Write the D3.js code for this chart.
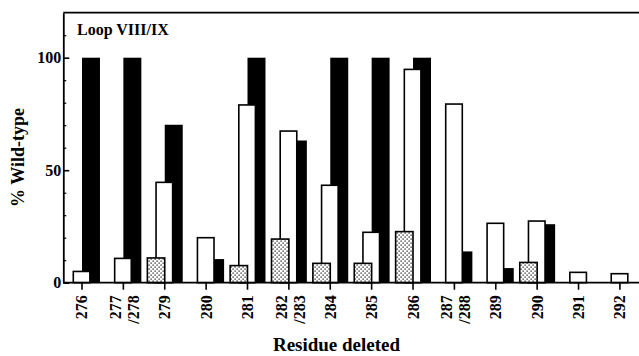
<!DOCTYPE html>
<html>
<head>
<meta charset="utf-8">
<script src="https://cdn.jsdelivr.net/npm/d3@7"></script>
<style>
  html, body { margin: 0; padding: 0; background: #fff; }
  svg { display: block; }
  text { font-family: "Liberation Serif", "DejaVu Serif", serif; font-weight: bold; fill: #000; }
</style>
</head>
<body>
<svg id="chart" width="639" height="356"></svg>
<script>
// ---- data ----
const categories = ["276", "277/278", "279", "280", "281", "282/283", "284", "285", "286", "287/288", "289", "290", "291", "292"];
const stippledValues = [0, 0, 11, 0, 7.6, 19.4, 8.6, 8.6, 22.7, 0, 0, 9, 0, 0];
const whiteValues    = [5, 10.8, 44.6, 20, 79, 67.4, 43.3, 22.4, 94.8, 79.4, 26.4, 27.4, 4.6, 4];
const blackValues    = [100, 100, 70.2, 10.5, 100, 63.2, 100, 100, 100, 13.9, 6.5, 26, 0, 0];
const yMajorTicks = [0, 50, 100];
const yMinorTicks = [10, 20, 30, 40, 60, 70, 80, 90, 110];
const panelLabel = "Loop VIII/IX";
const xTitle = "Residue deleted";
const yTitle = "% Wild-type";

// ---- layout ----
const svg = d3.select("#chart");
const mLeft = 63.3, mTop = 12.7, mBottom = 282.7, mRight = 641;

const x = d3.scaleBand().domain(categories).range([61.3, 640.6]).paddingInner(0).paddingOuter(0);
const y = d3.scaleLinear().domain([0, 120]).range([mBottom, mTop]);
const step = x.step();
const bw = step * 0.42;
const cx = d => x(d) + x.bandwidth() / 2;

// stipple pattern
const defs = svg.append("defs");
const pat = defs.append("pattern").attr("id", "stipple").attr("patternUnits", "userSpaceOnUse")
  .attr("width", 4).attr("height", 4);
pat.append("rect").attr("width", 4).attr("height", 4).attr("fill", "#fff");
pat.append("rect").attr("x", 0.5).attr("y", 0.5).attr("width", 1.2).attr("height", 1.2).attr("fill", "#000");
pat.append("rect").attr("x", 2.5).attr("y", 2.5).attr("width", 1.2).attr("height", 1.2).attr("fill", "#000");

const rows = categories.map((c, i) => ({ c, s: stippledValues[i], w: whiteValues[i], b: blackValues[i] }));

// black bars (back)
svg.append("g").selectAll("rect").data(rows.filter(d => d.b > 0)).join("rect")
  .attr("x", d => cx(d.c))
  .attr("y", d => y(d.b))
  .attr("width", bw + 0.6)
  .attr("height", d => y(0) - y(d.b))
  .attr("fill", "#000");

// white bars (middle)
svg.append("g").selectAll("rect").data(rows.filter(d => d.w > 0)).join("rect")
  .attr("x", d => cx(d.c) - bw / 2)
  .attr("y", d => y(d.w))
  .attr("width", bw - 0.8)
  .attr("height", d => y(0) - y(d.w))
  .attr("fill", "#fff").attr("stroke", "#000").attr("stroke-width", 1.6);

// stippled bars (front)
svg.append("g").selectAll("rect").data(rows.filter(d => d.s > 0)).join("rect")
  .attr("x", d => cx(d.c) - bw)
  .attr("y", d => y(d.s))
  .attr("width", bw)
  .attr("height", d => y(0) - y(d.s))
  .attr("fill", "url(#stipple)").attr("stroke", "#000").attr("stroke-width", 1.6);

// frame: top line
svg.append("line").attr("x1", mLeft).attr("x2", mRight).attr("y1", mTop).attr("y2", mTop)
  .attr("stroke", "#000").attr("stroke-width", 1.8);

// y axis
const yAxis = d3.axisLeft(y).tickValues(yMajorTicks).tickSizeInner(-6).tickSizeOuter(0).tickPadding(2);
const gy = svg.append("g").attr("transform", `translate(${mLeft},0)`).call(yAxis);
gy.select(".domain").attr("stroke-width", 1.8);
gy.selectAll(".tick line").attr("stroke-width", 1.6);
gy.selectAll(".tick text").style("font-size", "16px").style("font-family", "Liberation Serif").style("font-weight", "bold");
const yMinor = d3.axisLeft(y).tickValues(yMinorTicks).tickSizeInner(-3).tickSizeOuter(0).tickFormat("");
const gym = svg.append("g").attr("transform", `translate(${mLeft},0)`).call(yMinor);
gym.select(".domain").remove();
gym.selectAll(".tick line").attr("stroke-width", 1.2);

// x axis
const xAxis = d3.axisBottom(x).tickSizeInner(7).tickSizeOuter(0).tickPadding(0);
const gx = svg.append("g").attr("transform", `translate(0,${mBottom})`).call(xAxis);
gx.select(".domain").remove();
svg.append("line").attr("x1", mLeft).attr("x2", mRight).attr("y1", mBottom).attr("y2", mBottom)
  .attr("stroke", "#000").attr("stroke-width", 1.8);
gx.selectAll(".tick line").attr("stroke-width", 1.6);
gx.selectAll(".tick text").each(function(d) {
  const t = d3.select(this);
  t.text(null)
    .attr("transform", "translate(0,12.5) rotate(-90)")
    .attr("text-anchor", "end")
    .attr("x", 0).attr("y", 0).attr("dy", null)
    .style("font-size", "16px").style("font-family", "Liberation Serif").style("font-weight", "bold");
  const parts = d.split("/");
  if (parts.length === 1) {
    t.append("tspan").attr("x", 0).attr("y", 5.5).text(parts[0]);
  } else {
    t.append("tspan").attr("x", 0).attr("y", -2.3).text(parts[0]);
    t.append("tspan").attr("x", 0).attr("y", 16).text("/" + parts[1]);
  }
});

// panel label
svg.append("text").attr("x", 77).attr("y", 34.5).style("font-size", "16px").text(panelLabel);

// axis titles
svg.append("text").attr("x", 336.5).attr("y", 351).attr("text-anchor", "middle")
  .style("font-size", "19px").text(xTitle);
svg.append("text").attr("transform", "translate(24,157.5) rotate(-90)").attr("text-anchor", "middle")
  .style("font-size", "18px").text(yTitle);
</script>
</body>
</html>
